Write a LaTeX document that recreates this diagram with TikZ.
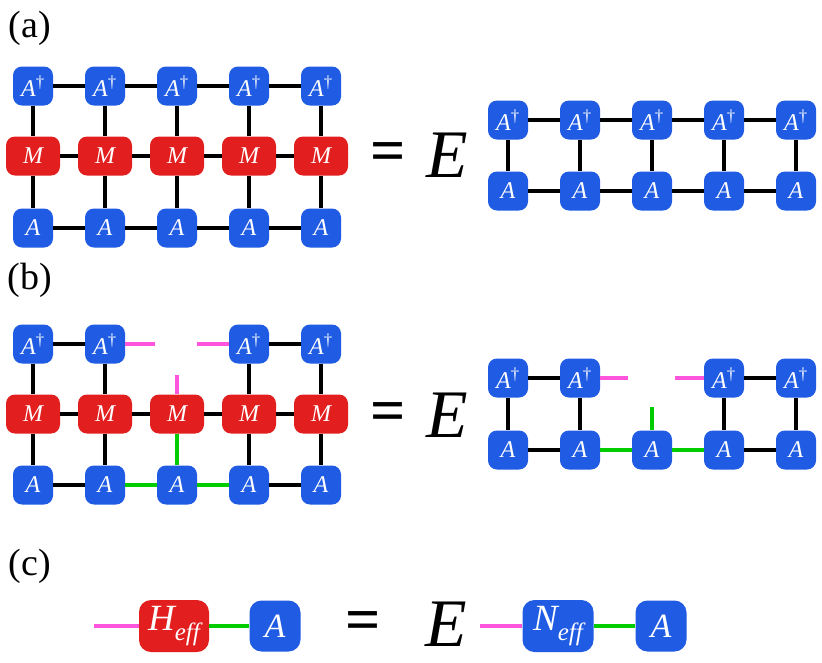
\documentclass[tikz,border=0pt]{standalone}
\usepackage{fontspec}
\setmainfont{Liberation Serif}
\usetikzlibrary{positioning}
\definecolor{TBlue}{HTML}{1F5BE3}
\definecolor{TRed}{HTML}{E21E1E}
\definecolor{TPink}{HTML}{FF55DD}
\definecolor{TGreen}{HTML}{00CC00}
\newcommand{\adag}{A\textsuperscript{\upshape†}}
\newcommand{\effsub}[1]{{\fontsize{37}{40}\selectfont #1}\raisebox{-0.32em}{\fontsize{25}{25}\selectfont eff}}
\tikzset{
  tensor/.style={rounded corners=9pt,inner sep=0pt,minimum width=40pt,minimum height=39pt,
    text=white,font=\fontsize{24}{26}\selectfont\itshape},
  atensor/.style={tensor,fill=TBlue},
  mtensor/.style={tensor,fill=TRed,minimum width=54pt},
  bigtensor/.style={rounded corners=12pt,minimum width=51pt,minimum height=51pt,
    font=\fontsize{34}{36}\selectfont\itshape},
  bond/.style={line width=4.5pt},
  pbond/.style={bond,TPink},
  gbond/.style={bond,TGreen},
  panel/.style={font=\fontsize{38}{42}\selectfont},
  eqsign/.style={font=\fontsize{62}{66}\selectfont\bfseries},
  factor/.style={font=\fontsize{68}{72}\selectfont\itshape}
}

\begin{document}
\begin{tikzpicture}[x=1pt,y=-1pt]
  \useasboundingbox (0,0) rectangle (822,662);

  % (a)
  \node[panel] (la) at (30,28) {(a)};
  \foreach \i in {1,...,5}{
    \pgfmathsetmacro{\xl}{33+72*(\i-1)}
    \pgfmathsetmacro{\xr}{508+72*(\i-1)}
    \node[atensor] (at\i) at (\xl,86) {\adag};
    \node[mtensor] (am\i) at (\xl,156) {M};
    \node[atensor] (ab\i) at (\xl,228) {A};
    \node[atensor] (et\i) at (\xr,120) {\adag};
    \node[atensor] (eb\i) at (\xr,191) {A};
    \draw[bond] (at\i)--(am\i)--(ab\i);
    \draw[bond] (et\i)--(eb\i);
  }
  \foreach \i/\j in {1/2,2/3,3/4,4/5}{
    \draw[bond] (at\i)--(at\j);
    \draw[bond] (am\i)--(am\j);
    \draw[bond] (ab\i)--(ab\j);
    \draw[bond] (et\i)--(et\j);
    \draw[bond] (eb\i)--(eb\j);
  }
  \node[eqsign] (aeq) at (388,157) {=};
  \node[factor] (ae) at (447,155) {E};

  % (b)
  \node[panel] (lb) at (30,280) {(b)};
  \foreach \i in {1,...,5}{
    \pgfmathsetmacro{\xl}{33+72*(\i-1)}
    \pgfmathsetmacro{\xr}{508+72*(\i-1)}
    \node[mtensor] (bm\i) at (\xl,414) {M};
    \node[atensor] (bb\i) at (\xl,485) {A};
    \node[atensor] (fb\i) at (\xr,450) {A};
  }
  \foreach \i in {1,2,4,5}{
    \pgfmathsetmacro{\xl}{33+72*(\i-1)}
    \pgfmathsetmacro{\xr}{508+72*(\i-1)}
    \node[atensor] (bt\i) at (\xl,344) {\adag};
    \node[atensor] (ft\i) at (\xr,378) {\adag};
    \draw[bond] (bt\i)--(bm\i)--(bb\i);
    \draw[bond] (ft\i)--(fb\i);
  }
  \foreach \i/\j in {1/2,2/3,3/4,4/5}
    \draw[bond] (bm\i)--(bm\j);
  \foreach \i/\j in {1/2,4/5}{
    \draw[bond] (bt\i)--(bt\j);
    \draw[bond] (bb\i)--(bb\j);
    \draw[bond] (ft\i)--(ft\j);
    \draw[bond] (fb\i)--(fb\j);
  }
  \coordinate (bp1) at (155,344);
  \coordinate (bp2) at (197,344);
  \coordinate (bp3) at (177,375);
  \draw[pbond] (bt2)--(bp1);
  \draw[pbond] (bp2)--(bt4);
  \draw[pbond] (bp3)--(bm3);
  \draw[gbond] (bm3)--(bb3);
  \draw[gbond] (bb2)--(bb3)--(bb4);
  \coordinate (fp1) at (628,378);
  \coordinate (fp2) at (675,378);
  \coordinate (fp3) at (652,407);
  \draw[pbond] (ft2)--(fp1);
  \draw[pbond] (fp2)--(ft4);
  \draw[gbond] (fp3)--(fb3);
  \draw[gbond] (fb2)--(fb3)--(fb4);
  \node[eqsign] (beq) at (388,417) {=};
  \node[factor] (be) at (447,415) {E};

  % (c)
  \node[panel] (lc) at (30,566) {(c)};
  \node[mtensor,bigtensor,minimum width=70pt,minimum height=52pt] (heff) at (174,626) {\effsub{H}};
  \node[atensor,bigtensor] (ca) at (275,626) {A};
  \coordinate (cp1) at (94,626);
  \draw[pbond] (cp1)--(heff);
  \draw[gbond] (heff)--(ca);
  \node[eqsign] (ceq) at (363,626) {=};
  \node[factor] (ce) at (446,624) {E};
  \node[atensor,bigtensor,minimum width=71pt,minimum height=52pt] (neff) at (558,626) {\effsub{N}};
  \node[atensor,bigtensor] (cb) at (661,626) {A};
  \coordinate (cp2) at (480,626);
  \draw[pbond] (cp2)--(neff);
  \draw[gbond] (neff)--(cb);
\end{tikzpicture}
\end{document}
